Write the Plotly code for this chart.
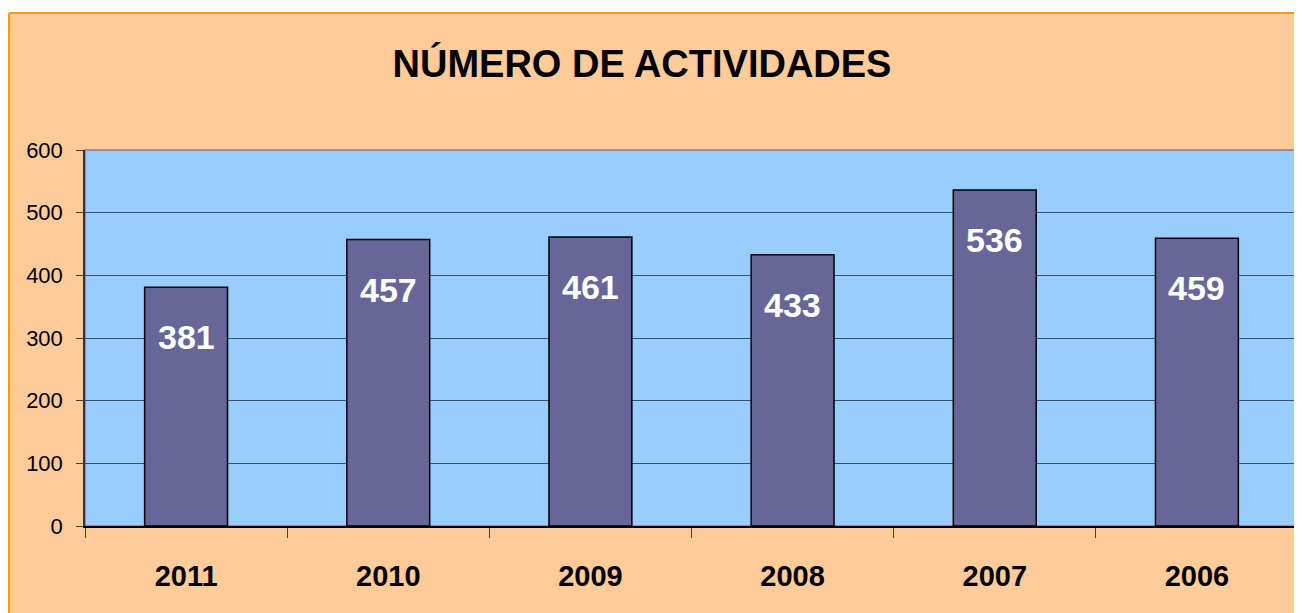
import plotly.graph_objects as go

# Chart data
years = ["2011", "2010", "2009", "2008", "2007", "2006"]
actividades = [381, 457, 461, 433, 536, 459]
y_ticks = [0, 100, 200, 300, 400, 500, 600]

# The page body adds an 8px margin, so the figure is sized to fill the rest
W, H = 1294, 605
# plot area in figure pixels
left, right, top, bottom = 77, 1290, 142, 518

font_family = "Arial, Liberation Sans, sans-serif"

fig = go.Figure()
fig.add_trace(go.Bar(
    x=years,
    y=actividades,
    marker=dict(color="#666699", line=dict(color="#000000", width=1.5)),
    hoverinfo="x+y",
))

# Value labels inside the bars (x given as category index)
for i, val in enumerate(actividades):
    fig.add_annotation(
        x=i, y=val, yshift=-50,
        text=str(val), showarrow=False,
        font=dict(family=font_family, size=34, color="white", weight="bold"),
    )

plot_w = right - left
plot_h = bottom - top

def px_x(p):
    return (p - left) / plot_w

def px_y(p):
    return (bottom - p) / plot_h

# white strip on top and orange border of the chart area
fig.add_shape(type="rect", xref="paper", yref="paper",
              x0=px_x(0), x1=px_x(W), y0=px_y(5), y1=px_y(0),
              fillcolor="white", line=dict(width=0), layer="above")
fig.add_shape(type="line", xref="paper", yref="paper",
              x0=px_x(1), x1=px_x(W), y0=px_y(5), y1=px_y(5),
              line=dict(color="#FF9900", width=2), layer="above")
fig.add_shape(type="line", xref="paper", yref="paper",
              x0=px_x(1), x1=px_x(1), y0=px_y(H), y1=px_y(5),
              line=dict(color="#FF9900", width=2), layer="above")

# Gray border around plot area (top and right)
fig.add_shape(type="rect", xref="paper", yref="paper",
              x0=0, x1=1, y0=0, y1=1,
              line=dict(color="#808080", width=1.5), layer="below")

fig.update_layout(
    width=W, height=H,
    margin=dict(l=left, r=W - right, t=top, b=H - bottom, pad=0, autoexpand=False),
    paper_bgcolor="#FFCC99",
    plot_bgcolor="#99CCFF",
    bargap=0.59,
    showlegend=False,
    title=dict(
        text="<b>NÚMERO DE ACTIVIDADES</b>",
        x=634 / W, xanchor="center",
        y=1 - 56 / H, yanchor="middle",
        font=dict(family=font_family, size=38, color="black"),
    ),
    xaxis=dict(
        type="category",
        range=[-0.5, len(years) - 0.5],
        showgrid=False,
        showline=True, linecolor="#000000", linewidth=1.5,
        ticks="outside", tickson="boundaries", ticklen=10, tickcolor="#404040",
        tickfont=dict(family=font_family, size=29, color="black", weight="bold"),
        ticklabelstandoff=23, tickangle=0, automargin=False,
    ),
    yaxis=dict(
        range=[0, 600],
        tickvals=y_ticks,
        showgrid=True, gridcolor="#3d4f66", gridwidth=1,
        zeroline=False,
        showline=True, linecolor="#333333", linewidth=1.5,
        ticks="outside", ticklen=7, tickcolor="#404040",
        tickfont=dict(family=font_family, size=22, color="black"),
        ticklabelstandoff=9, automargin=False,
    ),
)

fig.write_html("out.html")
